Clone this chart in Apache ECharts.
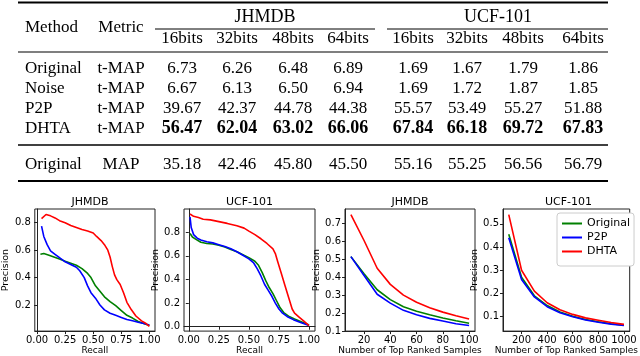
<!DOCTYPE html>
<html>
<head>
<meta charset="utf-8">
<script src="https://cdn.jsdelivr.net/npm/echarts@6/dist/echarts.min.js"></script>
<style>html,body{margin:0;padding:0;background:#fff}#c{width:640px;height:356px}</style>
</head>
<body>
<div id="c"></div>
<script>
// ---------- table data ----------
const methods = ['Original', 'Noise', 'P2P', 'DHTA', 'Original'];
const metrics = ['t-MAP', 't-MAP', 't-MAP', 't-MAP', 'MAP'];
const datasets = ['JHMDB', 'UCF-101'];
const bitLabels = ['16bits', '32bits', '48bits', '64bits'];
const jhmdbTable = [
  [6.73, 6.26, 6.48, 6.89],
  [6.67, 6.13, 6.50, 6.94],
  [39.67, 42.37, 44.78, 44.38],
  [56.47, 62.04, 63.02, 66.06],
  [35.18, 42.46, 45.80, 45.50]
];
const ucfTable = [
  [1.69, 1.67, 1.79, 1.86],
  [1.69, 1.72, 1.87, 1.85],
  [55.57, 53.49, 55.27, 51.88],
  [67.84, 66.18, 69.72, 67.83],
  [55.16, 55.25, 56.56, 56.79]
];
const boldRow = 3;

// ---------- chart data ----------
const seriesNames = ['Original', 'P2P', 'DHTA'];
const chartTitles = ['JHMDB', 'UCF-101', 'JHMDB', 'UCF-101'];
const xNames = ['Recall', 'Recall', 'Number of Top Ranked Samples', 'Number of Top Ranked Samples'];

const prJhmdbOriginal = [[0.03,0.57],[0.06,0.575],[0.10,0.565],[0.15,0.55],[0.20,0.535],[0.25,0.52],[0.30,0.505],[0.35,0.49],[0.40,0.465],[0.45,0.43],[0.48,0.40],[0.52,0.34],[0.56,0.30],[0.60,0.26],[0.65,0.225],[0.70,0.195],[0.75,0.16],[0.80,0.125],[0.85,0.105],[0.90,0.08],[0.95,0.065],[1.00,0.05]];
const prJhmdbP2P = [[0.04,0.775],[0.06,0.70],[0.09,0.64],[0.12,0.595],[0.16,0.57],[0.20,0.545],[0.25,0.515],[0.30,0.495],[0.35,0.475],[0.38,0.45],[0.42,0.40],[0.45,0.34],[0.48,0.29],[0.52,0.25],[0.56,0.20],[0.60,0.165],[0.65,0.14],[0.70,0.125],[0.75,0.11],[0.80,0.095],[0.85,0.085],[0.90,0.075],[0.95,0.065],[1.00,0.055]];
const prJhmdbDHTA = [[0.04,0.83],[0.08,0.86],[0.12,0.85],[0.16,0.835],[0.20,0.815],[0.25,0.80],[0.30,0.78],[0.35,0.765],[0.40,0.75],[0.45,0.74],[0.50,0.725],[0.53,0.70],[0.57,0.67],[0.60,0.64],[0.63,0.60],[0.65,0.55],[0.67,0.48],[0.69,0.42],[0.71,0.385],[0.74,0.35],[0.77,0.29],[0.80,0.22],[0.84,0.165],[0.88,0.12],[0.93,0.085],[0.97,0.065],[1.00,0.045]];

const prUcfOriginal = [[0.01,0.79],[0.03,0.76],[0.06,0.74],[0.10,0.715],[0.15,0.705],[0.20,0.70],[0.25,0.69],[0.30,0.675],[0.35,0.655],[0.40,0.635],[0.45,0.61],[0.50,0.585],[0.55,0.555],[0.58,0.52],[0.61,0.46],[0.64,0.39],[0.67,0.33],[0.70,0.28],[0.73,0.22],[0.76,0.16],[0.79,0.12],[0.83,0.09],[0.88,0.065],[0.94,0.04],[1.00,0.015]];
const prUcfP2P = [[0.01,0.93],[0.02,0.84],[0.04,0.78],[0.07,0.75],[0.10,0.735],[0.15,0.72],[0.20,0.71],[0.25,0.695],[0.30,0.68],[0.35,0.66],[0.40,0.635],[0.45,0.605],[0.50,0.575],[0.54,0.54],[0.57,0.49],[0.60,0.43],[0.63,0.36],[0.66,0.31],[0.69,0.26],[0.72,0.20],[0.75,0.15],[0.78,0.115],[0.82,0.085],[0.87,0.06],[0.93,0.035],[1.00,0.01]];
const prUcfDHTA = [[0.01,0.955],[0.04,0.935],[0.08,0.925],[0.12,0.91],[0.18,0.905],[0.25,0.89],[0.32,0.875],[0.40,0.855],[0.46,0.835],[0.50,0.81],[0.55,0.78],[0.60,0.745],[0.65,0.705],[0.70,0.66],[0.72,0.62],[0.74,0.55],[0.77,0.45],[0.80,0.35],[0.83,0.25],[0.86,0.15],[0.88,0.115],[0.92,0.08],[0.96,0.045],[1.00,0.01]];

const topKJhmdb = [10, 20, 30, 40, 50, 60, 70, 80, 90, 100];
const pkJhmdbOriginal = [0.515, 0.42, 0.33, 0.275, 0.235, 0.21, 0.19, 0.172, 0.157, 0.143];
const pkJhmdbP2P = [0.515, 0.41, 0.305, 0.255, 0.215, 0.19, 0.17, 0.155, 0.14, 0.13];
const pkJhmdbDHTA = [0.75, 0.605, 0.45, 0.36, 0.30, 0.26, 0.23, 0.205, 0.185, 0.167];

const topKUcf = [100, 200, 300, 400, 500, 600, 700, 800, 900, 1000];
const pkUcfOriginal = [0.455, 0.27, 0.19, 0.148, 0.12, 0.102, 0.088, 0.078, 0.07, 0.063];
const pkUcfP2P = [0.44, 0.26, 0.185, 0.143, 0.117, 0.1, 0.086, 0.076, 0.068, 0.062];
const pkUcfDHTA = [0.54, 0.30, 0.21, 0.16, 0.13, 0.11, 0.095, 0.085, 0.075, 0.067];

// tick labels
const recallTicks = [0, 0.25, 0.5, 0.75, 1.0];
const prJhmdbYTicks = [0.2, 0.4, 0.6, 0.8];
const prUcfYTicks = [0.0, 0.2, 0.4, 0.6, 0.8];
const pkJhmdbXTicks = [20, 40, 60, 80, 100];
const pkJhmdbYTicks = [0.1, 0.2, 0.3, 0.4, 0.5, 0.6, 0.7];
const pkUcfXTicks = [200, 400, 600, 800, 1000];
const pkUcfYTicks = [0.1, 0.2, 0.3, 0.4, 0.5];

// ---------- layout ----------
const colors = ['#008000', '#0000ff', '#ff0000'];
const serif = '"Liberation Serif", "DejaVu Serif", serif';
const sans = '"DejaVu Sans", sans-serif';

const grids = [
  {left: 25, top: 209, width: 130, height: 124},
  {left: 184, top: 209, width: 131, height: 124},
  {left: 345, top: 209, width: 130, height: 124},
  {left: 503, top: 209, width: 131, height: 124}
];
const xRanges = [[-0.02, 1.05], [-0.04, 1.05], [5.5, 104.5], [55, 1045]];
const yRanges = [[0.01, 0.90], [-0.037, 0.997], [0.099, 0.781], [0.038, 0.564]];
const xTicks = [recallTicks, recallTicks, pkJhmdbXTicks, pkUcfXTicks];
const yTicks = [prJhmdbYTicks, prUcfYTicks, pkJhmdbYTicks, pkUcfYTicks];
const xFmt = [v => v.toFixed(2), v => v.toFixed(2), v => String(v), v => String(v)];
const yFmt = v => v.toFixed(1);

const xAxes = grids.map((g, i) => ({
  type: 'value', gridIndex: i, min: xRanges[i][0], max: xRanges[i][1],
  name: xNames[i], nameLocation: 'middle', nameGap: 12,
  nameTextStyle: {fontFamily: sans, fontSize: 9, color: '#000'},
  axisLine: {show: true, lineStyle: {color: '#222', width: 1}},
  axisTick: {show: true, inside: false, length: 3, customValues: xTicks[i], lineStyle: {color: '#222'}},
  axisLabel: {show: true, customValues: xTicks[i], formatter: xFmt[i], margin: 4, fontFamily: sans, fontSize: 10, color: '#000'},
  splitLine: {show: false}
}));
const yAxes = grids.map((g, i) => ({
  type: 'value', gridIndex: i, min: yRanges[i][0], max: yRanges[i][1],
  name: 'Precision', nameLocation: 'middle', nameGap: 16, nameRotate: 90,
  nameTextStyle: {fontFamily: sans, fontSize: 9.5, color: '#000'},
  axisLine: {show: true, lineStyle: {color: '#222', width: 1}},
  axisTick: {show: true, inside: false, length: 3, customValues: yTicks[i], lineStyle: {color: '#222'}},
  axisLabel: {show: true, customValues: yTicks[i], formatter: yFmt, margin: 4, fontFamily: sans, fontSize: 10, color: '#000'},
  splitLine: {show: false}
}));

const zip = (xs, ys) => xs.map((x, k) => [x, ys[k]]);
const chartSeries = [
  [prJhmdbOriginal, prJhmdbP2P, prJhmdbDHTA],
  [prUcfOriginal, prUcfP2P, prUcfDHTA],
  [zip(topKJhmdb, pkJhmdbOriginal), zip(topKJhmdb, pkJhmdbP2P), zip(topKJhmdb, pkJhmdbDHTA)],
  [zip(topKUcf, pkUcfOriginal), zip(topKUcf, pkUcfP2P), zip(topKUcf, pkUcfDHTA)]
];
const series = [];
chartSeries.forEach((set, i) => {
  set.forEach((data, s) => {
    series.push({
      type: 'line', name: seriesNames[s], xAxisIndex: i, yAxisIndex: i,
      data: data, showSymbol: false, symbol: 'none',
      lineStyle: {color: colors[s], width: 1.6}, itemStyle: {color: colors[s]},
      z: 2 + s
    });
  });
});

const titles = grids.map((g, i) => ({
  text: chartTitles[i], left: g.left + g.width / 2, top: 197, textAlign: 'center',
  padding: 0, textStyle: {fontFamily: sans, fontSize: 11, fontWeight: 'normal', color: '#000'}
}));

// ---------- table graphic ----------
const elements = [];
function txt(text, x, y, align, bold, size) {
  const fs = size || 17;
  elements.push({
    type: 'text', silent: true,
    style: {
      text: text, x: x, y: y, fill: '#000',
      font: (bold ? 'bold ' : 'normal ') + fs + 'px ' + serif,
      align: align, verticalAlign: 'middle', textAlign: align, textVerticalAlign: 'middle'
    }
  });
}
function hline(x1, x2, y, w) {
  elements.push({type: 'line', silent: true, shape: {x1: x1, y1: y, x2: x2, y2: y}, style: {stroke: '#000', lineWidth: w}});
}
const colX = [182, 237, 293, 348, 413, 467, 523, 583];
const rowY = [69, 89, 108.5, 128.5, 164.5];
const methodX = 25, metricX = 121;
txt('Method', methodX, 28, 'left');
txt('Metric', metricX, 28, 'center');
txt(datasets[0], (colX[0] + colX[3]) / 2, 17.5, 'center', false, 18);
txt(datasets[1], (colX[4] + colX[7]) / 2, 17.5, 'center', false, 18);
colX.forEach((x, k) => txt(bitLabels[k % 4], x, 39, 'center'));
methods.forEach((m, r) => {
  txt(m, methodX, rowY[r], 'left');
  txt(metrics[r], metricX, rowY[r], 'center');
  const vals = jhmdbTable[r].concat(ucfTable[r]);
  vals.forEach((v, k) => txt(v.toFixed(2), colX[k], rowY[r], 'center', r === boldRow, r === boldRow ? 18 : 17));
});
hline(18, 608, 2.5, 1.8);
hline(155, 375, 29, 1);
hline(387, 608, 29, 1);
hline(18, 608, 52, 1.2);
hline(18, 608, 145, 1.4);
hline(18, 608, 181, 1.8);

const chart = echarts.init(document.getElementById('c'), null, {renderer: 'canvas', width: 640, height: 356});
chart.setOption({
  animation: false,
  backgroundColor: '#fff',
  title: titles,
  grid: grids.map(g => Object.assign({show: true, borderColor: '#222', borderWidth: 1, backgroundColor: '#fff', containLabel: false}, g)),
  xAxis: xAxes,
  yAxis: yAxes,
  legend: {
    data: seriesNames, orient: 'vertical', left: 557, top: 213,
    icon: 'rect', itemWidth: 20, itemHeight: 2, itemGap: 3,
    padding: [5, 4, 9, 5], backgroundColor: '#fff', borderColor: '#ccc', borderWidth: 1, borderRadius: 3,
    textStyle: {fontFamily: sans, fontSize: 11, color: '#000'}
  },
  series: series,
  graphic: {elements: elements}
});
</script>
</body>
</html>
